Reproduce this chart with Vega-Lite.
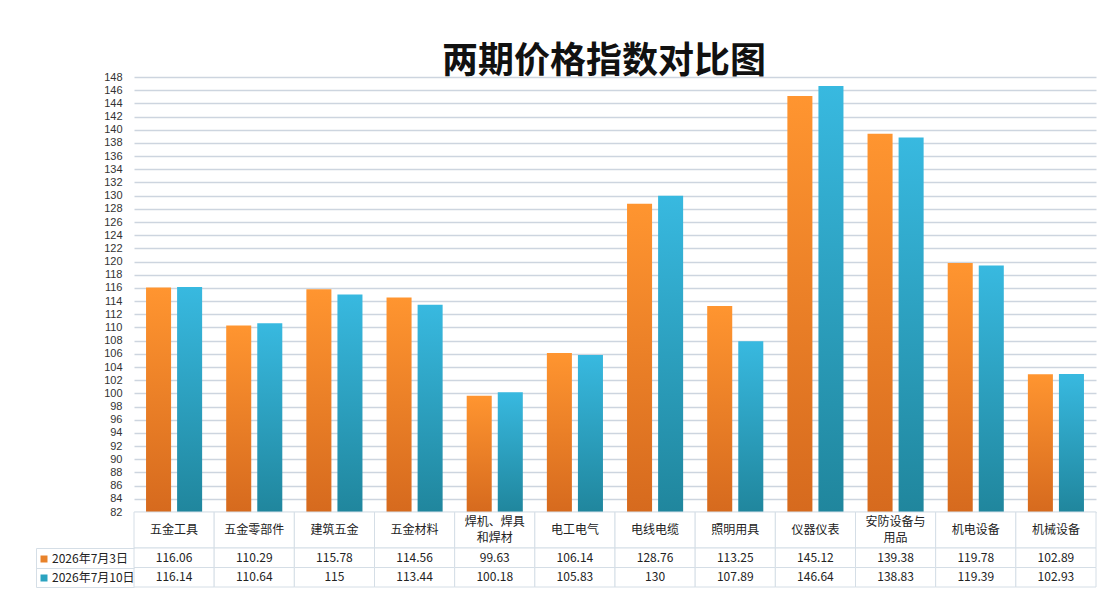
{
  "$schema": "https://vega.github.io/schema/vega-lite/v6.json",
  "background": "white",
  "padding": {"left": 35, "top": 44, "right": 0, "bottom": 0},
  "spacing": 0,
  "bounds": "flush",
  "title": {
    "text": "两期价格指数对比图",
    "font": "Noto Sans CJK SC",
    "fontSize": 36,
    "fontWeight": "bold",
    "color": "#111111",
    "anchor": "middle",
    "offset": -10,
    "dx": 38
  },
  "datasets": {
    "main": [
      {"category": "五金工具", "series": "2026年7月3日", "value": 116.06},
      {"category": "五金工具", "series": "2026年7月10日", "value": 116.14},
      {"category": "五金零部件", "series": "2026年7月3日", "value": 110.29},
      {"category": "五金零部件", "series": "2026年7月10日", "value": 110.64},
      {"category": "建筑五金", "series": "2026年7月3日", "value": 115.78},
      {"category": "建筑五金", "series": "2026年7月10日", "value": 115},
      {"category": "五金材料", "series": "2026年7月3日", "value": 114.56},
      {"category": "五金材料", "series": "2026年7月10日", "value": 113.44},
      {"category": "焊机、焊具和焊材", "series": "2026年7月3日", "value": 99.63},
      {"category": "焊机、焊具和焊材", "series": "2026年7月10日", "value": 100.18},
      {"category": "电工电气", "series": "2026年7月3日", "value": 106.14},
      {"category": "电工电气", "series": "2026年7月10日", "value": 105.83},
      {"category": "电线电缆", "series": "2026年7月3日", "value": 128.76},
      {"category": "电线电缆", "series": "2026年7月10日", "value": 130},
      {"category": "照明用具", "series": "2026年7月3日", "value": 113.25},
      {"category": "照明用具", "series": "2026年7月10日", "value": 107.89},
      {"category": "仪器仪表", "series": "2026年7月3日", "value": 145.12},
      {"category": "仪器仪表", "series": "2026年7月10日", "value": 146.64},
      {"category": "安防设备与用品", "series": "2026年7月3日", "value": 139.38},
      {"category": "安防设备与用品", "series": "2026年7月10日", "value": 138.83},
      {"category": "机电设备", "series": "2026年7月3日", "value": 119.78},
      {"category": "机电设备", "series": "2026年7月10日", "value": 119.39},
      {"category": "机械设备", "series": "2026年7月3日", "value": 102.89},
      {"category": "机械设备", "series": "2026年7月10日", "value": 102.93}
    ],
    "cats": [
      {"category": "五金工具", "line1": "五金工具", "line2": ""},
      {"category": "五金零部件", "line1": "五金零部件", "line2": ""},
      {"category": "建筑五金", "line1": "建筑五金", "line2": ""},
      {"category": "五金材料", "line1": "五金材料", "line2": ""},
      {"category": "焊机、焊具和焊材", "line1": "焊机、焊具", "line2": "和焊材"},
      {"category": "电工电气", "line1": "电工电气", "line2": ""},
      {"category": "电线电缆", "line1": "电线电缆", "line2": ""},
      {"category": "照明用具", "line1": "照明用具", "line2": ""},
      {"category": "仪器仪表", "line1": "仪器仪表", "line2": ""},
      {"category": "安防设备与用品", "line1": "安防设备与", "line2": "用品"},
      {"category": "机电设备", "line1": "机电设备", "line2": ""},
      {"category": "机械设备", "line1": "机械设备", "line2": ""}
    ]
  },
  "vconcat": [
    {
      "width": 962,
      "height": 435,
      "data": {"name": "main"},
      "mark": {"type": "bar", "clip": true},
      "encoding": {
        "x": {
          "field": "category",
          "type": "nominal",
          "sort": null,
          "scale": {"paddingInner": 0, "paddingOuter": 0},
          "axis": null
        },
        "xOffset": {
          "field": "series",
          "type": "nominal",
          "scale": {"domain": ["2026年7月3日", "2026年7月10日"], "paddingInner": 0.194, "paddingOuter": 0.3875}
        },
        "y": {
          "field": "value",
          "type": "quantitative",
          "scale": {"domain": [82, 148], "zero": false, "nice": false},
          "axis": {
            "title": null,
            "values": [82,84,86,88,90,92,94,96,98,100,102,104,106,108,110,112,114,116,118,120,122,124,126,128,130,132,134,136,138,140,142,144,146,148],
            "grid": true,
            "gridColor": "#cdd5df",
            "gridWidth": 1.6,
            "domain": false,
            "ticks": false,
            "labelFont": "Liberation Sans",
            "labelFontSize": 11,
            "labelColor": "#333333",
            "labelPadding": 12
          }
        },
        "y2": {"datum": 82},
        "color": {
          "condition": {
            "test": "datum.series === '2026年7月3日'",
            "value": {
              "gradient": "linear", "x1": 0, "y1": 0, "x2": 0, "y2": 1,
              "stops": [{"offset": 0, "color": "#ff9530"}, {"offset": 1, "color": "#d66a1e"}]
            }
          },
          "value": {
            "gradient": "linear", "x1": 0, "y1": 0, "x2": 0, "y2": 1,
            "stops": [{"offset": 0, "color": "#38b9e0"}, {"offset": 1, "color": "#20869d"}]
          }
        }
      }
    },
    {
      "width": 962,
      "height": 36,
      "data": {"name": "cats"},
      "encoding": {
        "x": {
          "field": "category",
          "type": "nominal",
          "sort": null,
          "scale": {"paddingInner": 0, "paddingOuter": 0},
          "axis": null
        }
      },
      "layer": [
        {"mark": {"type": "rect", "fill": "white", "stroke": "#d5dee6", "strokeWidth": 1}},
        {
          "transform": [{"filter": "datum.line2 === ''"}],
          "mark": {"type": "text", "font": "Noto Sans CJK SC", "fontSize": 12, "color": "#222222"},
          "encoding": {"text": {"field": "line1"}}
        },
        {
          "transform": [{"filter": "datum.line2 !== ''"}],
          "mark": {"type": "text", "font": "Noto Sans CJK SC", "fontSize": 12, "color": "#222222", "dy": -8},
          "encoding": {"text": {"field": "line1"}}
        },
        {
          "transform": [{"filter": "datum.line2 !== ''"}],
          "mark": {"type": "text", "font": "Noto Sans CJK SC", "fontSize": 12, "color": "#222222", "dy": 8},
          "encoding": {"text": {"field": "line2"}}
        }
      ]
    },
    {
      "width": 962,
      "height": 39,
      "data": {"name": "main"},
      "encoding": {
        "x": {
          "field": "category",
          "type": "nominal",
          "sort": null,
          "scale": {"paddingInner": 0, "paddingOuter": 0},
          "axis": null
        },
        "y": {
          "field": "series",
          "type": "nominal",
          "sort": ["2026年7月3日", "2026年7月10日"],
          "scale": {"paddingInner": 0, "paddingOuter": 0},
          "axis": {
            "title": null,
            "labels": false,
            "offset": 98,
            "tickSize": -98,
            "tickBand": "extent",
            "tickColor": "#d5dee6",
            "domain": true,
            "domainColor": "#d5dee6"
          }
        }
      },
      "layer": [
        {"mark": {"type": "rect", "fill": "white", "stroke": "#d5dee6", "strokeWidth": 1}},
        {
          "mark": {"type": "text", "font": "Noto Sans CJK SC", "fontSize": 12, "color": "#222222"},
          "encoding": {"text": {"field": "value", "type": "nominal"}}
        },
        {
          "mark": {"type": "square", "opacity": 0},
          "encoding": {
            "color": {
              "field": "series",
              "type": "nominal",
              "scale": {"domain": ["2026年7月3日", "2026年7月10日"], "range": ["#e8822a", "#2aa3c0"]},
              "legend": {
                "orient": "none",
                "legendX": -96,
                "legendY": 476,
                "title": null,
                "symbolType": "square",
                "symbolSize": 49,
                "symbolOpacity": 1,
                "symbolStrokeWidth": 0,
                "labelFont": "Noto Sans CJK SC",
                "labelFontSize": 12,
                "labelColor": "#222222",
                "labelOffset": 2,
                "rowPadding": 7,
                "padding": 0
              }
            }
          }
        }
      ]
    }
  ],
  "config": {
    "view": {"stroke": null}
  }
}
